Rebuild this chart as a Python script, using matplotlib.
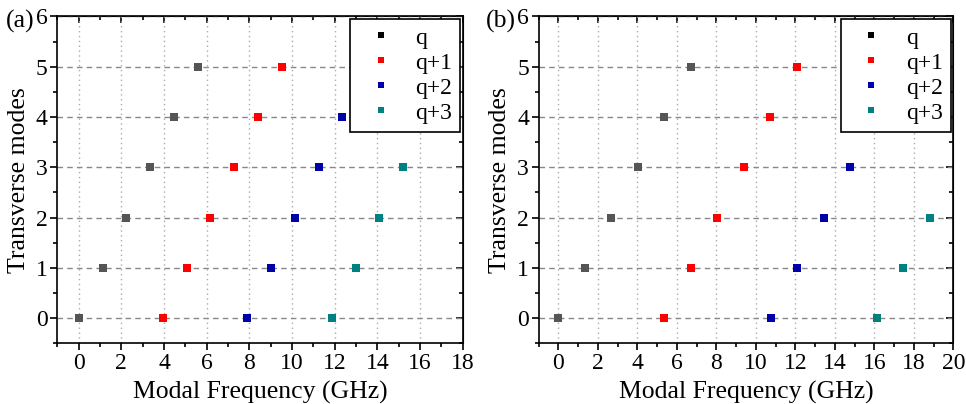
import numpy as np
import matplotlib.pyplot as plt
from matplotlib.lines import Line2D
from matplotlib.ticker import MultipleLocator

plt.rcParams['font.family'] = ['Liberation Serif', 'DejaVu Serif']
plt.rcParams['mathtext.fontset'] = 'stix'

# ---- data ----
labels = ['q', 'q+1', 'q+2', 'q+3']
colors = ['#555555', '#ff0000', '#0000a8', '#008080']
legend_colors = ['#000000', '#ff0000', '#0000a8', '#008080']

# panel (a): modal frequency (GHz) per transverse mode index
a_q0 = [0.0, 1.12, 2.22, 3.34, 4.45, 5.58]
a_q1 = [3.95, 5.08, 6.17, 7.29, 8.41, 9.52]
a_q2 = [7.90, 9.03, 10.14, 11.26, 12.34]
a_q3 = [11.88, 12.99, 14.09, 15.22]

# panel (b)
b_q0 = [0.0, 1.33, 2.68, 4.03, 5.37, 6.70]
b_q1 = [5.37, 6.70, 8.05, 9.40, 10.73, 12.08]
b_q2 = [10.75, 12.10, 13.43, 14.77]
b_q3 = [16.12, 17.47, 18.82]

x_lims = [(-1, 18), (-1, 20)]
panel_tags = ['(a)', '(b)']


def draw_panel(ax, series, xlim, tag):
    for xs, c in zip(series, colors):
        ax.plot(xs, np.arange(len(xs)), 's', color=c, ms=6, mew=0, zorder=3)
    ax.set_xlim(*xlim)
    ax.set_ylim(-0.5, 6)
    ax.xaxis.set_major_locator(MultipleLocator(2))
    ax.xaxis.set_minor_locator(MultipleLocator(1))
    ax.yaxis.set_major_locator(MultipleLocator(1))
    ax.yaxis.set_minor_locator(MultipleLocator(0.5))
    ax.tick_params(which='both', direction='out', labelsize=17, width=1.2, pad=2)
    ax.tick_params(which='major', length=5)
    ax.tick_params(which='minor', length=3)
    # top/right ticks point inward
    top = ax.secondary_xaxis('top')
    top.xaxis.set_major_locator(MultipleLocator(2))
    top.xaxis.set_minor_locator(MultipleLocator(1))
    top.tick_params(which='both', direction='in', labeltop=False, width=1.2)
    top.tick_params(which='major', length=5)
    top.tick_params(which='minor', length=3)
    right = ax.secondary_yaxis('right')
    right.yaxis.set_major_locator(MultipleLocator(1))
    right.yaxis.set_minor_locator(MultipleLocator(0.5))
    right.tick_params(which='both', direction='in', labelright=False, width=1.2)
    right.tick_params(which='major', length=5)
    right.tick_params(which='minor', length=3)
    for sp in ax.spines.values():
        sp.set_linewidth(1.2)
    ax.yaxis.grid(True, linestyle=(0, (4, 3)), color='#888888', lw=1.0)
    ax.xaxis.grid(True, linestyle=(0, (1, 2.5)), color='#aaaaaa', lw=1.0)
    ax.set_axisbelow(True)
    ax.set_xlabel('Modal Frequency (GHz)', fontsize=18.5, labelpad=5)
    ax.set_ylabel('Transverse modes', fontsize=18.5, labelpad=4)
    handles = [Line2D([], [], marker='s', ls='none', color=c, ms=5, mew=0)
               for c in legend_colors]
    leg = ax.legend(handles, labels, loc='upper right', fontsize=17,
                    frameon=True, fancybox=False, edgecolor='black',
                    framealpha=1, borderaxespad=0.1, handletextpad=0.5,
                    labelspacing=0.15, borderpad=0.35, handlelength=1.9)
    leg.get_frame().set_linewidth(1.2)
    ax.text(-0.128, 0.985, tag, transform=ax.transAxes, fontsize=18.5,
            ha='left', va='center')


fig = plt.figure(figsize=(9.66, 4.04), dpi=100)
ax_a = fig.add_axes([0.0593, 0.150, 0.4197, 0.8094])
ax_b = fig.add_axes([0.5576, 0.150, 0.4293, 0.8094])

draw_panel(ax_a, [a_q0, a_q1, a_q2, a_q3], x_lims[0], panel_tags[0])
draw_panel(ax_b, [b_q0, b_q1, b_q2, b_q3], x_lims[1], panel_tags[1])

fig.savefig('out.png', dpi=100)
